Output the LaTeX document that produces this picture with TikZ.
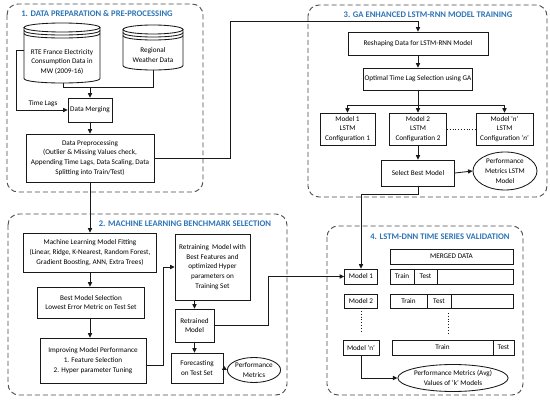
\documentclass[tikz,border=0pt]{standalone}
\usepackage{fontspec}
\setmainfont{Carlito}
\usetikzlibrary{arrows.meta,calc,shapes.geometric}
\definecolor{ttl}{RGB}{46,117,182}
\definecolor{ink}{RGB}{25,25,25}
\begin{document}
\begin{tikzpicture}[x=1pt,y=-1pt,
  font=\fontsize{7.2}{9.8}\selectfont,
  box/.style={draw=ink, line width=0.85pt, fill=white, align=center, inner sep=1pt},
  sect/.style={draw=black!70, dash pattern=on 5pt off 3pt, line width=0.9pt, rounded corners=11pt},
  ttlstyle/.style={text=ttl, font=\fontsize{8.6}{10}\selectfont\bfseries},
  arr/.style={draw=ink, -{Triangle[length=4.5pt,width=4.2pt]}, line width=0.85pt},
  ln/.style={draw=ink, line width=0.85pt},
  ell/.style={draw=ink, ellipse, line width=0.85pt, align=center, inner sep=0pt, fill=white},
  cyl/.style={draw=ink, line width=0.85pt},
  dots/.style={draw=ink, line width=0.8pt, dotted}
]
\useasboundingbox (0,0) rectangle (550,401);
\fill[white] (0,0) rectangle (550,401);

% ---------- section frames ----------
\draw[sect] (7,4) rectangle (203,192);
\draw[sect] (308,5) rectangle (547,197);
\draw[sect] (8,214) rectangle (287,395);
\draw[sect] (327,226) rectangle (523,395);

\node[ttlstyle] (t1) at (97,14) {1. DATA PREPARATION \& PRE-PROCESSING};
\node[ttlstyle] (t3) at (428,15) {3. GA ENHANCED LSTM-RNN MODEL TRAINING};
\node[ttlstyle] (t2) at (185,224) {2. MACHINE LEARNING BENCHMARK SELECTION};
\node[ttlstyle] (t4) at (440,237) {4. LSTM-DNN TIME SERIES VALIDATION};

% ---------- cylinders ----------
\draw[cyl] (62,27.5) ellipse [x radius=38, y radius=4.5];
\draw[cyl] (24,30.5) .. controls (24,36.5) and (100,36.5) .. (100,30.5);
\draw[cyl] (24,33.5) .. controls (24,39.5) and (100,39.5) .. (100,33.5);
\draw[cyl] (24,27.5) -- (24,78.5) .. controls (24,84.5) and (100,84.5) .. (100,78.5) -- (100,27.5);
\draw[cyl] (153,29.5) ellipse [x radius=30, y radius=4.5];
\draw[cyl] (123,32.5) .. controls (123,38.5) and (183,38.5) .. (183,32.5);
\draw[cyl] (123,35.5) .. controls (123,41.5) and (183,41.5) .. (183,35.5);
\draw[cyl] (123,29.5) -- (123,65.5) .. controls (123,71.5) and (183,71.5) .. (183,65.5) -- (183,29.5);

\node[align=center] (rte) at (62,62) {RTE France Electricity\\Consumption Data in\\MW (2009-16)};
\node[align=center] (wea) at (153,55) {Regional\\Weather Data};
\coordinate (rteb) at (63,83);
\coordinate (weab) at (153,70);
\coordinate (rtel) at (24,50);

% ---------- section 1 ----------
\node[box, minimum width=44pt, minimum height=24pt] (merge) at (90,110) {Data Merging};
\node[box, minimum width=128pt, minimum height=48pt] (prep) at (90,158) {Data Preprocessing\\(Outlier \& Missing Values check,\\Appending Time Lags, Data Scaling, Data\\Splitting into Train/Test)};

\coordinate (j1) at (90,87);
\draw[ln] (rteb) |- (j1);
\draw[ln] (weab) |- (j1);
\draw[arr] (j1) -- (merge.north);
\coordinate (tl) at (16,50);
\draw[arr] (rtel) -- (tl) |- (merge.west);
\node (tlag) at (43,104) {Time Lags};
\draw[arr] (merge.south) -- (prep.north);

% ---------- section 3 ----------
\node[box, minimum width=140pt, minimum height=23pt] (reshape) at (418,43.5) {Reshaping Data for LSTM-RNN Model};
\node[box, minimum width=103pt, minimum height=22pt] (opt) at (418,79) {Optimal Time Lag Selection using GA};
\node[box, minimum width=55pt, minimum height=32pt] (m1) at (347.5,129) {Model 1\\LSTM\\Configuration 1};
\node[box, minimum width=57pt, minimum height=32pt] (m2) at (418,129) {Model 2\\LSTM\\Configuration 2};
\node[box, minimum width=57pt, minimum height=32pt] (mn) at (504.5,129) {Model ‘\textit{n}’\\LSTM\\Configuration ‘\textit{n}’};
\node[box, minimum width=73pt, minimum height=26pt] (sel) at (418,173) {Select Best Model};
\node[ell, minimum width=64pt, minimum height=38pt] (pm3) at (505,171) {Performance\\Metrics LSTM\\Model};

\coordinate (k1) at (230,21);
\draw[arr] (prep.east) -| (k1) -| (reshape.north);
\draw[arr] (reshape.south) -- (opt.north);
\coordinate (b0) at (418,105);
\draw[ln] (opt.south) -- (b0);
\draw[arr] (b0) -| (m1.north);
\draw[arr] (b0) -| (mn.north);
\draw[arr] (b0) -- (m2.north);
\draw[dots] (m2.east) -- (mn.west);
\draw[arr] (m2.south) -- (sel.north);
\draw[arr] (sel.east) -- (pm3.west);

% ---------- section 2 ----------
\node[box, minimum width=133pt, minimum height=39pt] (ml) at (90,252.5) {Machine Learning Model Fitting\\(Linear, Ridge, K-Nearest, Random Forest,\\Gradient Boosting, ANN, Extra Trees)};
\node[box, minimum width=107pt, minimum height=31pt] (best) at (91,302.5) {Best Model Selection\\Lowest Error Metric on Test Set};
\node[box, minimum width=106pt, minimum height=45pt] (imp) at (93,360.5) {Improving Model Performance\\1. Feature Selection\\2. Hyper parameter Tuning};
\node[box, minimum width=75pt, minimum height=66pt] (retr) at (212.5,267) {Retraining\ \ Model with\\Best Features and\\optimized Hyper\\parameters on\\Training Set};
\node[box, minimum width=39pt, minimum height=33pt] (retd) at (194.5,325.5) {Retrained\\Model};
\node[box, minimum width=52pt, minimum height=30pt] (fore) at (197,368) {Forecasting\\on Test Set};
\node[ell, minimum width=47pt, minimum height=25pt] (pm2) at (254,370) {Performance\\Metrics};

\draw[arr] (prep.south) -- (ml.north);
\draw[arr] (ml.south) -- (ml.south |- best.north);
\draw[arr] (ml.south |- best.south) -- (ml.south |- imp.north);
\coordinate (k2) at (163,267);
\draw[arr] ($(imp.east)+(0,5)$) -| (k2) -- (retr.west);
\draw[arr] (retd.north |- retr.south) -- (retd.north);
\draw[arr] (retd.south) -- (retd.south |- fore.north);
\draw[arr] (fore.east) -- (pm2.west);

% ---------- section 4 ----------
\node[box, minimum width=123pt, minimum height=15pt] (merged) at (451.5,256.5) {MERGED DATA};
\node[box, minimum width=33pt, minimum height=15pt] (v1) at (361,276.5) {Model 1};
\node[box, minimum width=24pt, minimum height=15pt] (r1a) at (402,276.5) {Train};
\node[box, minimum width=23pt, minimum height=15pt] (r1b) at (425.5,276.5) {Test};
\node[box, minimum width=76pt, minimum height=15pt] (r1c) at (475,276.5) {};
\node[box, minimum width=33pt, minimum height=14pt] (v2) at (361,301) {Model 2};
\node[box, minimum width=37pt, minimum height=14pt] (r2a) at (408.5,301) {Train};
\node[box, minimum width=24pt, minimum height=14pt] (r2b) at (439,301) {Test};
\node[box, minimum width=62pt, minimum height=14pt] (r2c) at (482,301) {};
\node[box, minimum width=36pt, minimum height=15pt] (vn) at (361,347.5) {Model ‘n’};
\node[box, minimum width=101pt, minimum height=15pt] (rna) at (442.5,347.5) {Train};
\node[box, minimum width=21pt, minimum height=15pt] (rnb) at (503.5,347.5) {Test};
\node[ell, minimum width=103pt, minimum height=27pt] (pm4) at (453,378) {Performance Metrics (Avg)\\Values of ‘k’ Models};

\coordinate (d1a) at (361,311);
\coordinate (d1b) at (361,331);
\coordinate (d2a) at (448,313);
\coordinate (d2b) at (448,333);
\draw[dots] (d1a) -- (d1b);
\draw[dots] (d2a) -- (d2b);

\coordinate (k4) at (361,194);
\draw[arr] (sel.south) |- (k4) -- (v1.north);
\coordinate (k3) at (268,276.5);
\draw[arr] (retd.east) -| (k3) -- (v1.west);
\draw[arr] (vn.south) |- (pm4.west);
\end{tikzpicture}
\end{document}
